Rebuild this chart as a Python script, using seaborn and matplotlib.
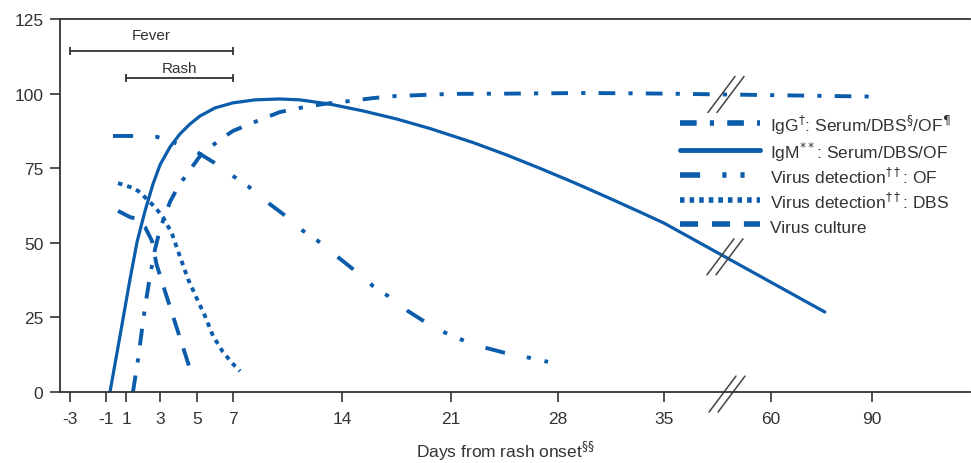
import numpy as np
import pandas as pd
import matplotlib
matplotlib.use("Agg")
import matplotlib.pyplot as plt
import matplotlib.transforms as mtransforms
from matplotlib.lines import Line2D
import seaborn as sns

# -----------------------------
# Data (days from rash onset, % positive)
# -----------------------------
tick_days = [-3, -1, 1, 3, 5, 7, 14, 21, 28, 35, 60, 90]
tick_labels = [str(d) for d in tick_days]

igg_days = [1.41, 1.71, 2.0, 2.15, 2.41, 2.71, 3.0, 3.54, 3.97, 4.35, 5.17, 6.17, 7.0,
            8.54, 10.0, 11.3, 12.8, 14.5, 16.0, 17.5, 19.0, 21.0, 25.0, 30.0, 35.0, 90.0]
igg_vals = [0, 11, 23.5, 29.5, 38.9, 47.9, 54.6, 63.7, 68.7, 72.1, 79.1, 84.1, 87.5,
            90.8, 93.8, 95.2, 96.5, 97.5, 98.5, 99.2, 99.5, 99.9, 100, 100.2, 100, 99]

igm_days = [-0.6, 0.4, 1.24, 1.65, 2.12, 2.59, 3.0, 3.54, 4.08, 4.62, 5.17, 6.0, 7.0,
            8.41, 10.0, 11.3, 13.2, 15.35, 17.5, 19.65, 22.44, 24.66, 26.8, 29.0, 31.24,
            33.42, 35.0, 76.0]
igm_vals = [0, 18.8, 37.9, 50.3, 60.7, 69.7, 76.1, 82.1, 86.5, 89.8, 92.5, 95.2, 96.9,
            97.9, 98.2, 97.9, 96.5, 94.2, 91.5, 88.3, 83.6, 79.4, 75.0, 70.3, 65.3,
            60.3, 56.6, 26.8]

of_days = [-0.3, 1.41, 2.82, 3.7, 5.0, 5.89, 7.0, 7.96, 9.18, 10.2, 11.5, 12.46, 13.74,
           14.7, 15.99, 16.95, 18.24, 19.33, 20.8, 21.9, 23.35, 24.53, 26.2, 27.35]
of_vals = [85.8, 85.8, 85.5, 83.8, 80.4, 77.1, 72.4, 69, 63.7, 59.7, 54, 50.6, 45.2,
           41.2, 35.5, 32.2, 27.1, 23.5, 19.4, 17.1, 14.7, 13.1, 11.4, 10.1]

dbs_days = [0.2, 1.24, 1.71, 2.41, 2.88, 3.16, 3.43, 3.65, 3.97, 4.51, 5.0, 5.44, 5.89,
            6.44, 7.0, 7.45]
dbs_vals = [70, 68.7, 67.4, 63.7, 60.7, 58.6, 55.6, 53, 47.3, 37.9, 31.2, 25.5, 18.8,
            13.4, 9.4, 7.0]

cul_days = [0.2, 1.24, 1.65, 2.12, 2.53, 2.79, 3.35, 3.89, 4.57]
cul_vals = [60.7, 58.6, 58, 55.3, 50.6, 42.9, 32.2, 21.8, 8.7]

fever_days = [-3, 7]
rash_days = [1, 7]

# -----------------------------
# Layout: the day axis is broken after 35, so map days to axis positions
# -----------------------------
tick_xpos = [70, 106, 126, 160, 197, 233, 342, 451, 558, 664, 771, 872]


def xpos(days):
    return np.interp(days, tick_days, tick_xpos)


BLUE = "#0b5cab"
DARK = "#333333"

sns.set_theme(style="ticks")
plt.rcParams["font.family"] = ["Liberation Sans", "DejaVu Sans"]
plt.rcParams["lines.scale_dashes"] = False

fig = plt.figure(figsize=(9.71, 4.64), dpi=100)
ax = fig.add_axes([60 / 971, 1 - 393 / 464, 910 / 971, 373 / 464])

series = [
    (r"IgG$^{\dagger}$: Serum/DBS$^{\S}$/OF$^{\P}$", igg_days, igg_vals, (12, 9.5, 3, 9.5), 2.8),
    (r"IgM$^{**}$: Serum/DBS/OF", igm_days, igm_vals, None, 2.3),
    (r"Virus detection$^{\dagger\dagger}$: OF", of_days, of_vals, (14.5, 16, 3, 10, 3, 16.5), 2.8),
    (r"Virus detection$^{\dagger\dagger}$: DBS", dbs_days, dbs_vals, (3.3, 3.6), 2.8),
    ("Virus culture", cul_days, cul_vals, (13, 10), 2.8),
]

handles = []
labels = []
for label, days, vals, dashes, lw in series:
    df = pd.DataFrame({"x": xpos(days), "y": vals})
    sns.lineplot(data=df, x="x", y="y", ax=ax, color=BLUE, lw=lw,
                 sort=False, estimator=None)
    line = ax.lines[-1]
    if dashes is not None:
        line.set_dashes(dashes)
    h = Line2D([], [], color=BLUE, lw=lw + 1.2)
    if dashes is not None:
        h.set_dashes(dashes)
    handles.append(h)
    labels.append(label)

# Fever / Rash duration bars
ax.plot(xpos(fever_days), [114.3, 114.3], color=DARK, lw=1.3, marker="|", ms=6, mew=1.3)
ax.text(xpos(fever_days).mean(), 119.8, "Fever", ha="center", va="center",
        fontsize=11, color=DARK)
ax.plot(xpos(rash_days), [105.2, 105.2], color=DARK, lw=1.3, marker="|", ms=6, mew=1.3)
ax.text(xpos(rash_days).mean(), 108.6, "Rash", ha="center", va="center",
        fontsize=11, color=DARK)


# Axis-break marks
def break_mark(x, y):
    tr = fig.dpi_scale_trans + mtransforms.ScaledTranslation(x, y, ax.transData)
    for s in (-0.045, 0.045):
        ax.plot([s - 0.135, s + 0.135], [-0.18, 0.18], transform=tr,
                color="#444444", lw=1.1, clip_on=False)


break_x = 726
break_mark(break_x, np.interp(break_x, xpos(igg_days), igg_vals))
break_mark(break_x - 1, np.interp(break_x - 1, xpos(igm_days), igm_vals))
break_mark(break_x + 1, -0.7)

ax.set_xlim(60, 970)
ax.set_ylim(0, 125)
ax.set_xticks(tick_xpos)
ax.set_xticklabels(tick_labels)
ax.set_yticks([0, 25, 50, 75, 100, 125])
ax.set_ylabel("")
ax.set_xlabel(r"Days from rash onset$^{\S\S}$", fontsize=12.5, color=DARK)
ax.xaxis.set_label_coords((505 - 60) / 910, -0.125)

ax.tick_params(axis="x", direction="out", length=7.5, width=1.2, color=DARK,
               labelsize=12.5, labelcolor=DARK, pad=6)
ax.tick_params(axis="y", direction="out", length=7, width=1.2, color=DARK,
               labelsize=12.5, labelcolor=DARK, pad=5)

ax.spines["right"].set_visible(False)
for side in ("top", "left", "bottom"):
    ax.spines[side].set_color(DARK)
    ax.spines[side].set_linewidth(1.3)

leg = ax.legend(handles, labels, loc="upper left",
                bbox_to_anchor=(680 / 971, 1 - 114 / 464), bbox_transform=fig.transFigure,
                frameon=False, fontsize=12.5, handlelength=4.6, handletextpad=0.6,
                handleheight=1.45, labelspacing=0.2, borderpad=0, borderaxespad=0)
for t in leg.get_texts():
    t.set_color(DARK)

fig.savefig("out.png", dpi=100)
